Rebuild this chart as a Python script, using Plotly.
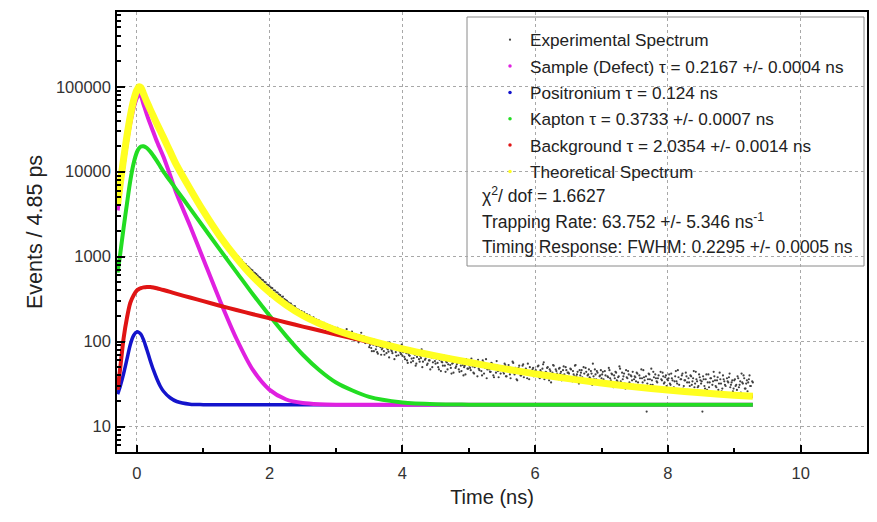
import numpy as np
import plotly.graph_objects as go

# ---------------- data ----------------
t_model = [-0.29, -0.25, -0.2, -0.15, -0.1, -0.05, 0.0, 0.03, 0.06, 0.1, 0.15, 0.2, 0.25,
           0.3, 0.35, 0.4, 0.5, 0.6, 0.8, 1.0, 1.25, 1.5, 1.75, 2.0, 2.25, 2.5, 2.75, 3.0,
           3.5, 4.0, 4.5, 5.0, 5.5, 6.0, 6.5, 7.0, 7.5, 8.0, 8.5, 9.0, 9.28]

sample_defect = [3500, 6200, 12000, 22000, 37000, 56000, 74000, 80500, 77500, 62000, 47000,
                 36500, 28900, 22900, 18500, 14970, 9120, 5450, 2310, 938, 305, 108, 46, 27,
                 20.8, 18.9, 18.3, 18.1, 18.0, 18.0, 18.0, 18.0, 18.0, 18.0, 18.0, 18.0, 18.0,
                 18.0, 18.0, 18.0, 18.0]

positronium = [24, 30, 42, 62, 92, 118, 130, 128, 122, 105, 80, 60, 46, 36.5, 30, 26, 21.8,
               19.7, 18.3, 18.1, 18.0, 18.0, 18.0, 18.0, 18.0, 18.0, 18.0, 18.0, 18.0, 18.0,
               18.0, 18.0, 18.0, 18.0, 18.0, 18.0, 18.0, 18.0, 18.0, 18.0, 18.0]

kapton = [650, 1100, 2200, 4200, 7800, 12500, 17000, 18800, 19800, 19900, 19000, 17300, 15300,
          13400, 11600, 10000, 7800, 6080, 3700, 2250, 1208, 658, 358, 201, 116, 70, 46, 33,
          22.3, 19.2, 18.3, 18.1, 18.0, 18.0, 18.0, 18.0, 18.0, 18.0, 18.0, 18.0, 18.0]

background = [27, 50, 110, 190, 285, 350, 400, 415, 426, 435, 440, 439, 433, 424, 415, 405,
              384, 364, 330, 299, 264, 235, 210, 188, 168, 150, 135, 121, 99, 81, 67.6, 56.9,
              48.4, 41.7, 36.6, 32.5, 29.3, 26.9, 24.9, 23.4, 22.7]

theoretical = [4147, 7326, 14298, 26398, 45123, 68914, 91471, 99786, 97793, 82387, 66467,
               54243, 44622, 36702, 30481, 25334, 17260, 11851, 6298, 3447, 1739, 964, 577,
               379, 268.8, 202.9, 163.3, 136.1, 103.3, 82.2, 67.9, 57.0, 48.4, 41.7, 36.6,
               32.5, 29.3, 26.9, 24.9, 23.4, 22.7]

# experimental spectrum: channel times and counts (three interleaved read-outs)
t_exp_early = np.round(-0.28 + 0.05 * np.arange(36), 3)
counts_early = [4400, 9000, 18500, 32000, 53000, 78000, 97000, 96000, 76000, 61000, 51000,
                41000, 34000, 28500, 23500, 19300, 16000, 13200, 11000, 9500, 8300, 7000,
                6000, 5100, 4400, 3800, 3250, 2800, 2400, 2100, 1850, 1620, 1420, 1250, 1120,
                1000]
t_exp_late = np.round(1.5 + 0.02 * np.arange(390), 3)
counts_late = [
    985, 1012, 948, 930, 905, 862, 830, 818, 776, 760, 728, 705, 690, 655, 640, 622, 598, 575, 561, 537, 529, 505, 497, 470, 462,
    448, 431, 425, 402, 399, 381, 377, 360, 352, 333, 338, 316, 309, 301, 290, 282, 279, 266, 258, 261, 244, 240, 236, 225, 229,
    214, 221, 206, 210, 196, 203, 190, 181, 193, 176, 183, 170, 178, 161, 169, 158, 166, 152, 160, 147, 155, 141, 150, 139, 146,
    132, 145, 127, 138, 121, 134, 117, 129, 140, 113, 125, 108, 131, 119, 103, 122, 112, 98, 118, 127, 104, 115, 96, 110, 101,
    86, 99, 77, 92, 105, 81, 75, 89, 97, 70, 84, 77, 92, 73, 81, 65, 87, 77, 82, 62, 75, 84, 69, 78, 71,
    68, 79, 62, 73, 56, 69, 82, 63, 59, 71, 52, 66, 76, 58, 64, 50, 68, 61, 72, 55, 60, 47, 65, 57, 69,
    55, 65, 50, 61, 45, 57, 69, 52, 58, 47, 63, 53, 42, 56, 64, 49, 54, 60, 44, 52, 57, 40, 52, 62, 48,
    55, 49, 63, 51, 42, 58, 53, 61, 46, 54, 40, 57, 50, 62, 47, 52, 44, 56, 49, 38, 53, 59, 45, 50, 42,
    51, 44, 55, 39, 48, 53, 41, 47, 58, 43, 49, 36, 46, 52, 40, 45, 54, 42, 48, 37, 44, 50, 41, 47, 39,
    45, 40, 51, 38, 46, 42, 54, 36, 44, 49, 39, 47, 33, 43, 52, 40, 45, 37, 48, 42, 35, 46, 41, 50, 38,
    43, 37, 47, 34, 41, 52, 39, 44, 32, 40, 46, 36, 42, 49, 35, 41, 38, 45, 31, 39, 47, 36, 43, 33, 40,
    37, 44, 33, 40, 30, 38, 46, 35, 41, 29, 37, 43, 34, 39, 48, 32, 36, 42, 28, 38, 45, 33, 40, 35, 31,
    39, 34, 42, 30, 37, 47, 33, 38, 28, 15, 36, 41, 31, 35, 44, 29, 37, 33, 40, 27, 36, 43, 32, 38, 30,
    35, 41, 31, 37, 28, 34, 45, 32, 38, 26, 36, 42, 30, 35, 39, 27, 33, 40, 31, 37, 29, 44, 34, 30, 38,
    32, 15, 36, 28, 41, 33, 29, 37, 25, 34, 39, 30, 35, 27, 43, 32, 28, 36, 31, 24, 34, 38, 29, 33, 26,
    35, 30, 27, 37, 31, 25, 33, 40, 28, 32, 26, 36, 30, 24, 33]
t_exp_tail = np.round(3.51 + 0.02 * np.arange(289), 3)
counts_tail = [
    91, 84, 103, 77, 95, 88, 72, 99, 86, 81, 94, 70, 89, 83, 76, 97, 80, 73, 90, 85, 68, 87, 79, 74, 92,
    75, 66, 83, 60, 72, 68, 57, 79, 64, 70, 55, 74, 62, 67, 81, 58, 69, 63, 53, 71, 60, 66, 50, 64, 59,
    63, 56, 47, 65, 58, 52, 61, 44, 57, 54, 66, 49, 55, 43, 59, 51, 56, 47, 62, 45, 53, 50, 41, 55, 48,
    52, 46, 58, 43, 50, 55, 39, 48, 53, 45, 60, 42, 49, 37, 51, 47, 44, 55, 40, 48, 43, 52, 38, 46, 50,
    47, 42, 53, 39, 45, 50, 37, 44, 56, 41, 47, 35, 49, 43, 40, 52, 38, 46, 44, 55, 36, 45, 42, 49, 40,
    46, 41, 52, 37, 44, 48, 57, 39, 43, 50, 35, 45, 41, 53, 38, 47, 42, 36, 49, 44, 40, 51, 37, 46, 43,
    42, 48, 36, 45, 39, 53, 41, 35, 46, 43, 38, 50, 34, 44, 40, 47, 37, 42, 55, 36, 41, 45, 33, 39, 46,
    41, 36, 45, 33, 39, 49, 37, 42, 31, 40, 44, 35, 38, 51, 34, 43, 39, 32, 46, 37, 41, 30, 39, 44, 36,
    38, 43, 33, 40, 29, 37, 46, 35, 39, 32, 42, 36, 48, 31, 38, 41, 34, 37, 27, 44, 35, 39, 33, 40, 36,
    37, 32, 42, 35, 29, 39, 34, 46, 31, 36, 40, 28, 35, 43, 33, 37, 30, 39, 34, 45, 32, 36, 29, 41, 35,
    34, 39, 30, 36, 27, 41, 33, 37, 31, 44, 35, 29, 38, 32, 36, 26, 40, 34, 30, 37, 33, 42, 31, 35, 28,
    36, 31, 39, 29, 34, 42, 32, 37, 28, 35, 33, 40, 30, 34]

t_exp = np.concatenate([t_exp_early, t_exp_late, t_exp_tail])
counts = counts_early + counts_late + counts_tail

legend_labels = ["Experimental Spectrum",
                 "Sample (Defect) τ = 0.2167 +/- 0.0004 ns",
                 "Positronium τ = 0.124 ns",
                 "Kapton τ = 0.3733 +/- 0.0007 ns",
                 "Background τ = 2.0354 +/- 0.0014 ns",
                 "Theoretical Spectrum"]
info_lines = ["χ<sup>2</sup>/ dof = 1.6627",
              "Trapping Rate: 63.752 +/- 5.346 ns<sup>-1</sup>",
              "Timing Response: FWHM: 0.2295 +/- 0.0005 ns"]

x_ticks = [0, 2, 4, 6, 8, 10]
x_minor = [1, 3, 5, 7, 9]
y_ticks = [10, 100, 1000, 10000, 100000]
y_ticktext = ["10", "100", "1000", "10000", "100000"]

# ---------------- figure ----------------
FONT = "Liberation Sans, Arial, sans-serif"
C_MAG, C_BLUE, C_GREEN, C_RED, C_YEL = "#e020e0", "#1414cc", "#22dd22", "#e01414", "#ffff20"
C_EXP = "#404040"

fig = go.Figure()

fig.add_trace(go.Scatter(x=t_exp, y=counts, mode="markers", name=legend_labels[0],
                         marker=dict(size=2.2, color=C_EXP), legendgroup="g0",
                         legendrank=1))

curves = [(positronium, C_BLUE, 3.5), (sample_defect, C_MAG, 4), (kapton, C_GREEN, 4),
          (background, C_RED, 4), (theoretical, C_YEL, 7)]
for vals, col, w in curves:
    fig.add_trace(go.Scatter(x=t_model, y=vals, mode="lines", showlegend=False,
                             line=dict(color=col, width=w, shape="spline", smoothing=0.8),
                             hoverinfo="skip"))

legend_cols = [C_MAG, C_BLUE, C_GREEN, C_RED, C_YEL]
for i, (lab, col) in enumerate(zip(legend_labels[1:], legend_cols)):
    fig.add_trace(go.Scatter(x=[None], y=[None], mode="markers", name=lab,
                             marker=dict(size=3.5, color=col), legendgroup=f"g{i+1}",
                             legendrank=i + 2))

# page is drawn with an 8px body offset; figure sized to fit the window
W, H = 869, 514
L, R, T, B = 109, 10, 4, 70
PL, PR, PT, PB = 117, 867, 12, 452   # plot-area edges in page pixels

def px(xp):
    return (xp - PL) / (PR - PL)

def py(yp):
    return (PB - yp) / (PB - PT)

fig.add_shape(type="rect", xref="paper", yref="paper", x0=px(467), x1=px(864),
              y0=py(266), y1=py(17), line=dict(color="#8a8a8a", width=1),
              fillcolor="white", layer="between")

for i, txt in enumerate(info_lines):
    fig.add_annotation(x=px(480), y=py(195 + 26 * i), xref="paper", yref="paper",
                       text=txt, showarrow=False, xanchor="left", yanchor="middle",
                       font=dict(family=FONT, size=17.5, color="#222"))

axis_common = dict(showline=True, linecolor="black", linewidth=1.5, mirror=True,
                   ticks="inside", tickcolor="black", tickwidth=1.5,
                   showgrid=True, gridcolor="#a8a8a8", griddash="dot", gridwidth=1,
                   zeroline=False, tickfont=dict(family=FONT, size=16.5, color="#333"))

fig.update_xaxes(**axis_common, range=[-0.3, 11.0], tickvals=x_ticks, ticklen=7,
                 ticklabelstandoff=5,
                 minor=dict(tickvals=x_minor, ticks="inside", ticklen=4, tickcolor="black",
                            showgrid=False),
                 title=dict(text="Time (ns)", font=dict(family=FONT, size=20, color="#222"),
                            standoff=9))

y_minor = [m * 10 ** k for k in range(0, 6) for m in range(2, 10)]
fig.update_yaxes(**axis_common, type="log", range=[0.70, 5.88], tickvals=y_ticks,
                 ticktext=y_ticktext, ticklen=8, ticklabelstandoff=1,
                 minor=dict(tickvals=y_minor, ticks="inside", ticklen=4, tickcolor="black",
                            showgrid=False),
                 title=dict(text="Events / 4.85 ps",
                            font=dict(family=FONT, size=21.5, color="#222"), standoff=7))

fig.update_layout(
    width=W, height=H, margin=dict(l=L, r=R, t=T, b=B, autoexpand=False),
    paper_bgcolor="white", plot_bgcolor="white",
    font=dict(family=FONT, color="#222"),
    legend=dict(x=px(490), y=py(22), xanchor="left", yanchor="top",
                bgcolor="rgba(0,0,0,0)", borderwidth=0, tracegroupgap=1,
                font=dict(family=FONT, size=17.2, color="#222"), itemsizing="trace"),
    showlegend=True,
)

fig.write_html("out.html")
